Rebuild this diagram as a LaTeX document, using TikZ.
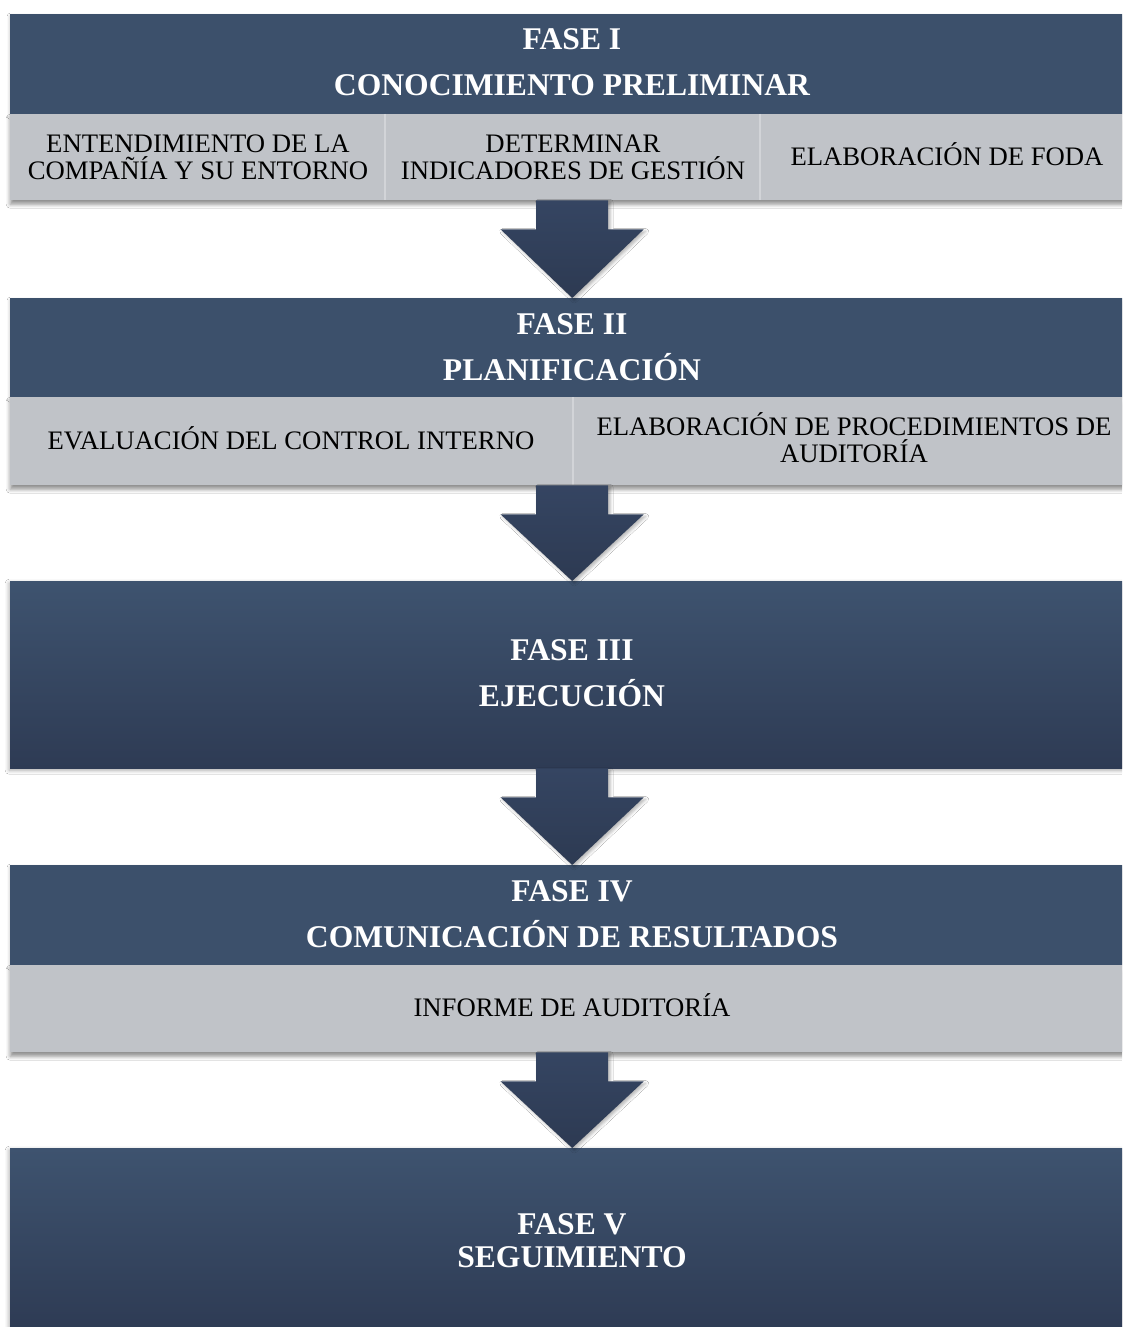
\documentclass[tikz,border=0pt]{standalone}
\usepackage{fontspec}
\setmainfont{Liberation Serif}
\usetikzlibrary{calc,shadows.blur}
\definecolor{hdr}{HTML}{3C506B}
\definecolor{hdrtop}{HTML}{3E536F}
\definecolor{hdrbot}{HTML}{2E3B54}
\definecolor{subg}{HTML}{C0C3C8}
\definecolor{divg}{HTML}{D2D4D8}
\definecolor{arrtop}{HTML}{354562}
\definecolor{arrbot}{HTML}{2D3A52}
\tikzset{
  hdrbox/.style={fill=hdr, inner sep=0pt, anchor=north west, minimum width=1124pt,
    blur shadow={shadow xshift=0pt, shadow yshift=-2pt, shadow blur radius=3pt, shadow opacity=30}},
  gradbox/.style={top color=hdrtop, bottom color=hdrbot, inner sep=0pt, anchor=north west, minimum width=1124pt,
    blur shadow={shadow xshift=-1pt, shadow yshift=-2pt, shadow blur radius=4pt, shadow opacity=35}},
  subbox/.style={fill=subg, inner sep=0pt, anchor=north west, minimum width=1124pt,
    blur shadow={shadow xshift=0pt, shadow yshift=-4pt, shadow blur radius=4pt, shadow opacity=45}},
  divline/.style={draw=divg, line width=1.6pt},
  arrowshape/.style={top color=arrtop, bottom color=arrbot,
    blur shadow={shadow xshift=2pt, shadow yshift=-2pt, shadow blur radius=3pt, shadow opacity=30}},
  htext/.style={text=white, font=\bfseries\fontsize{31.6}{31}\selectfont, anchor=base, inner sep=0pt},
  stext/.style={text=black, font=\fontsize{26.7}{26}\selectfont, anchor=base, inner sep=0pt},
}
\newcommand\blockarr[2]{%
  \path[arrowshape] ($(#1)+(-36,0)$) -- ($(#1)+(36,0)$) -- ($(#1)+(36,29)$) -- ($(#1)+(71.5,29)$)
    -- (#2) -- ($(#1)+(-71.5,29)$) -- ($(#1)+(-36,29)$) -- cycle;}
\begin{document}
\begin{tikzpicture}[x=1pt,y=-1pt]
\clip (0,0) rectangle (1122,1327);
\fill[white] (0,0) rectangle (1122,1327);

% Phase I
\node[hdrbox, minimum height=100pt] (h1) at (10,14) {};
\node[subbox, minimum height=86pt] (s1) at (10,114) {};
\draw[divline] (385,114) -- (385,200);
\draw[divline] (760,114) -- (760,200);
\node[htext] (t1a) at (572,50) {FASE I};
\node[htext] (t1b) at (572,96) {CONOCIMIENTO PRELIMINAR};
\node[stext] (c1a) at (198,152) {ENTENDIMIENTO DE LA};
\node[stext] (c1b) at (198,179) {COMPAÑÍA Y SU ENTORNO};
\node[stext] (c2a) at (573,152) {DETERMINAR};
\node[stext] (c2b) at (573,179) {INDICADORES DE GESTIÓN};
\node[stext] (c3a) at (947,165) {ELABORACIÓN DE FODA};

% Phase II
\node[hdrbox, minimum height=99pt] (h2) at (10,298) {};
\node[subbox, minimum height=88pt] (s2) at (10,397) {};
\draw[divline] (573,397) -- (573,485);
\node[htext] (t2a) at (572,334) {FASE II};
\node[htext] (t2b) at (572,380) {PLANIFICACIÓN};
\node[stext] (d1a) at (291,449) {EVALUACIÓN DEL CONTROL INTERNO};
\node[stext] (d2a) at (854,435) {ELABORACIÓN DE PROCEDIMIENTOS DE};
\node[stext] (d2b) at (854,462) {AUDITORÍA};

% Phase III
\node[gradbox, minimum height=187pt] (h3) at (10,581) {};
\node[htext] (t3a) at (572,660) {FASE III};
\node[htext] (t3b) at (572,706) {EJECUCIÓN};

% Phase IV
\node[hdrbox, minimum height=100pt] (h4) at (10,865) {};
\node[subbox, minimum height=87pt] (s4) at (10,965) {};
\node[htext] (t4a) at (572,901) {FASE IV};
\node[htext] (t4b) at (572,947) {COMUNICACIÓN DE RESULTADOS};
\node[stext] (e1a) at (572,1016) {INFORME DE AUDITORÍA};

% Phase V
\node[gradbox, minimum height=182pt] (h5) at (10,1148) {};
\node[htext] (t5a) at (572,1234) {FASE V};
\node[htext] (t5b) at (572,1267) {SEGUIMIENTO};

% Arrows
\blockarr{s1.south}{h2.north}
\blockarr{s2.south}{h3.north}
\blockarr{h3.south}{h4.north}
\blockarr{s4.south}{h5.north}
\end{tikzpicture}
\end{document}
